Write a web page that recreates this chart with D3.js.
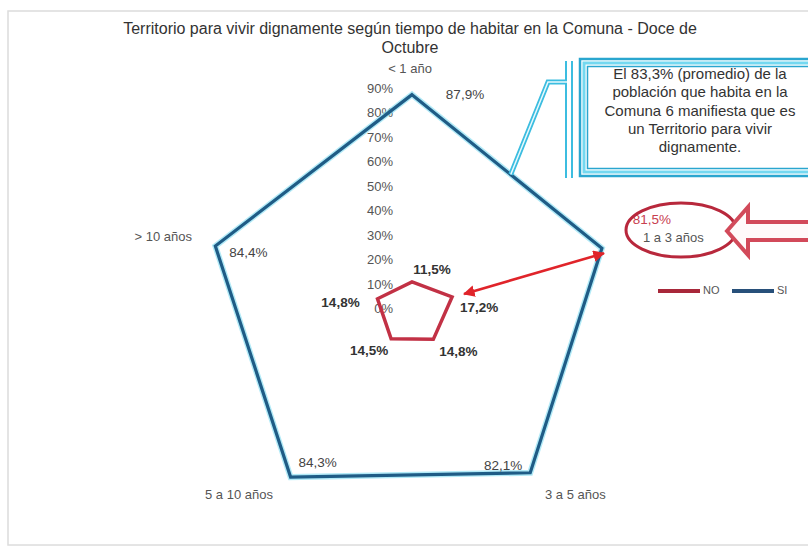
<!DOCTYPE html>
<html><head><meta charset="utf-8">
<script src="https://cdn.jsdelivr.net/npm/d3@7"></script>
<style>
html,body{margin:0;padding:0;background:#fff;}
svg{display:block;font-family:"Liberation Sans",Arial,sans-serif;}
</style></head>
<body>
<svg id="chart" width="808" height="551"></svg>
<script>
// ---- data ----
const categories = ["< 1 año", "1 a 3 años", "3 a 5 años", "5 a 10 años", "> 10 años"];
const seriesNames = ["NO", "SI"];
const siValues = [87.9, 81.5, 82.1, 84.3, 84.4];
const noValues = [11.5, 17.2, 14.8, 14.5, 14.8];
const siLabels = ["87,9%", "81,5%", "82,1%", "84,3%", "84,4%"];
const noLabels = ["11,5%", "17,2%", "14,8%", "14,5%", "14,8%"];
const tickValues = [0, 10, 20, 30, 40, 50, 60, 70, 80, 90];
const tickLabels = ["0%", "10%", "20%", "30%", "40%", "50%", "60%", "70%", "80%", "90%"];
const titleLines = ["Territorio para vivir dignamente según tiempo de habitar en la Comuna - Doce de", "Octubre"];
const calloutLines = ["El 83,3% (promedio) de la", "población que habita en la", "Comuna 6 manifiesta que es", "un Territorio para vivir", "dignamente."];

// ---- layout ----
const svg = d3.select("#chart");
const cx = 412, cy = 310;
const r = d3.scaleLinear().domain([0, 100]).range([0, 245]);
const angle = d3.scalePoint().domain(d3.range(categories.length + 1)).range([0, 2 * Math.PI]);
const pt = (i, v) => {
  const a = angle(i);
  return [cx + r(v) * Math.sin(a), cy - r(v) * Math.cos(a)];
};

// frame
svg.append("rect").attr("x", 8).attr("y", 11).attr("width", 830).attr("height", 534)
  .attr("fill", "none").attr("stroke", "#dcdcdc").attr("stroke-width", 1.5);

// title
svg.append("g").selectAll("text").data(titleLines).join("text")
  .attr("x", 410).attr("y", (d, i) => 30 + i * 19)
  .attr("text-anchor", "middle").attr("dominant-baseline", "middle")
  .attr("font-size", 16).attr("fill", "#333").text(d => d);

// tick labels
svg.append("g").selectAll("text").data(tickValues).join("text")
  .attr("x", 393).attr("y", d => cy - r(d))
  .attr("text-anchor", "end").attr("dominant-baseline", "middle")
  .attr("font-size", 13).attr("fill", "#555").text((d, i) => tickLabels[i]);

// radar lines
const radial = d3.lineRadial()
  .angle((d, i) => angle(i)).radius(d => r(d)).curve(d3.curveLinearClosed);
const g = svg.append("g").attr("transform", `translate(${cx},${cy})`);
g.append("path").attr("d", radial(siValues)).attr("fill", "none")
  .attr("stroke", "#7fdcf2").attr("stroke-width", 6).attr("stroke-opacity", 0.6).attr("stroke-linejoin", "miter");
g.append("path").attr("d", radial(siValues)).attr("fill", "none")
  .attr("stroke", "#1f5c86").attr("stroke-width", 3.2).attr("stroke-linejoin", "miter");
g.append("path").attr("d", radial(noValues)).attr("fill", "none")
  .attr("stroke", "#c23145").attr("stroke-width", 3.5).attr("stroke-linejoin", "miter");

// category labels (offsets from axis end at 100%)
const catOff = [[-2, 5, "middle"], [-2, 4, "start"], [-11, -13, "start"], [5, -13, "end"], [13, 3, "end"]];
svg.append("g").selectAll("text").data(categories).join("text")
  .attr("x", (d, i) => pt(i, 100)[0] + catOff[i][0])
  .attr("y", (d, i) => pt(i, 100)[1] + catOff[i][1])
  .attr("text-anchor", (d, i) => catOff[i][2]).attr("dominant-baseline", "middle")
  .attr("font-size", 13).attr("fill", "#555").text(d => d);

// SI data labels
const siOff = [[53, 1], [50, -28], [-27, -6], [27, -14], [33, 7]];
svg.append("g").selectAll("text").data(siValues).join("text")
  .attr("x", (d, i) => pt(i, d)[0] + siOff[i][0])
  .attr("y", (d, i) => pt(i, d)[1] + siOff[i][1])
  .attr("text-anchor", "middle").attr("dominant-baseline", "middle")
  .attr("font-size", 13.5).attr("fill", (d, i) => i === 1 ? "#c8404f" : "#444")
  .text((d, i) => siLabels[i]);

// NO data labels
const noOff = [[20, -11], [27, 11], [25, 13], [-22, 13], [-37, 5]];
svg.append("g").selectAll("text").data(noValues).join("text")
  .attr("x", (d, i) => pt(i, d)[0] + noOff[i][0])
  .attr("y", (d, i) => pt(i, d)[1] + noOff[i][1])
  .attr("text-anchor", "middle").attr("dominant-baseline", "middle")
  .attr("font-size", 13.5).attr("font-weight", "bold").attr("fill", "#333")
  .text((d, i) => noLabels[i]);

// ellipse highlight around "1 a 3 años"
svg.append("ellipse").attr("cx", 681).attr("cy", 230).attr("rx", 55).attr("ry", 27)
  .attr("fill", "none").attr("stroke", "#b8283c").attr("stroke-width", 3);

// hollow block arrow pointing left
svg.append("path")
  .attr("d", "M727,231 L748,207 L748,222 L820,222 L820,240 L748,240 L748,255 Z")
  .attr("fill", "#fffafa").attr("stroke", "#d24a5a").attr("stroke-width", 4).attr("stroke-linejoin", "miter");

// red double-headed arrow between SI and NO "1 a 3 años" vertices
const defs = svg.append("defs");
defs.append("marker").attr("id", "ah").attr("viewBox", "0 0 10 10").attr("refX", 9).attr("refY", 5)
  .attr("markerWidth", 4.5).attr("markerHeight", 4.5).attr("orient", "auto-start-reverse")
  .append("path").attr("d", "M0,0 L10,5 L0,10 Z").attr("fill", "#e0242a");
const aFrom = pt(1, noValues[1]), aTo = pt(1, siValues[1]);
svg.append("line")
  .attr("x1", aFrom[0] + 12).attr("y1", aFrom[1] - 3)
  .attr("x2", aTo[0] + 2).attr("y2", aTo[1] + 5)
  .attr("stroke", "#e0242a").attr("stroke-width", 2.6)
  .attr("marker-start", "url(#ah)").attr("marker-end", "url(#ah)");

// legend
const legend = svg.append("g");
const legColors = ["#a8283a", "#28507a"];
const legX = [658, 732];
legend.selectAll("line").data(seriesNames).join("line")
  .attr("x1", (d, i) => legX[i]).attr("x2", (d, i) => legX[i] + 42)
  .attr("y1", 291).attr("y2", 291)
  .attr("stroke", (d, i) => legColors[i]).attr("stroke-width", 4);
legend.selectAll("text").data(seriesNames).join("text")
  .attr("x", (d, i) => legX[i] + 45).attr("y", 291)
  .attr("dominant-baseline", "middle").attr("font-size", 11).attr("fill", "#555").text(d => d);

// callout box
const cb = svg.append("g");
cb.append("rect").attr("x", 580).attr("y", 59).attr("width", 260).attr("height", 117)
  .attr("fill", "#fff").attr("stroke", "#2aa6cf").attr("stroke-width", 2.5);
cb.append("rect").attr("x", 584).attr("y", 63).attr("width", 252).attr("height", 109)
  .attr("fill", "none").attr("stroke", "#74d8f0").attr("stroke-width", 3);
cb.append("rect").attr("x", 587.5).attr("y", 66.5).attr("width", 245).attr("height", 102)
  .attr("fill", "none").attr("stroke", "#2aa6cf").attr("stroke-width", 1.5);
cb.selectAll("line.bar").data([566, 572]).join("line").attr("class", "bar")
  .attr("x1", d => d).attr("x2", d => d).attr("y1", 61).attr("y2", 178)
  .attr("stroke", "#3cbde0").attr("stroke-width", 2);
// leader ends on the SI edge between "< 1 año" and "1 a 3 años"
const leaderEnd = d3.interpolate(pt(0, siValues[0]), pt(1, siValues[1]))(0.52);
const leaderPts = [[567, 82], [548, 82], leaderEnd];
cb.append("path").attr("d", d3.line()(leaderPts)).attr("fill", "none")
  .attr("stroke", "#3cbde0").attr("stroke-width", 5);
cb.append("path").attr("d", d3.line()(leaderPts)).attr("fill", "none")
  .attr("stroke", "#e8f9fd").attr("stroke-width", 1.5);
cb.append("g").selectAll("text").data(calloutLines).join("text")
  .attr("x", 700).attr("y", (d, i) => 75 + i * 18.3)
  .attr("text-anchor", "middle").attr("dominant-baseline", "middle")
  .attr("font-size", 15).attr("fill", "#333").text(d => d);
</script>
</body></html>
